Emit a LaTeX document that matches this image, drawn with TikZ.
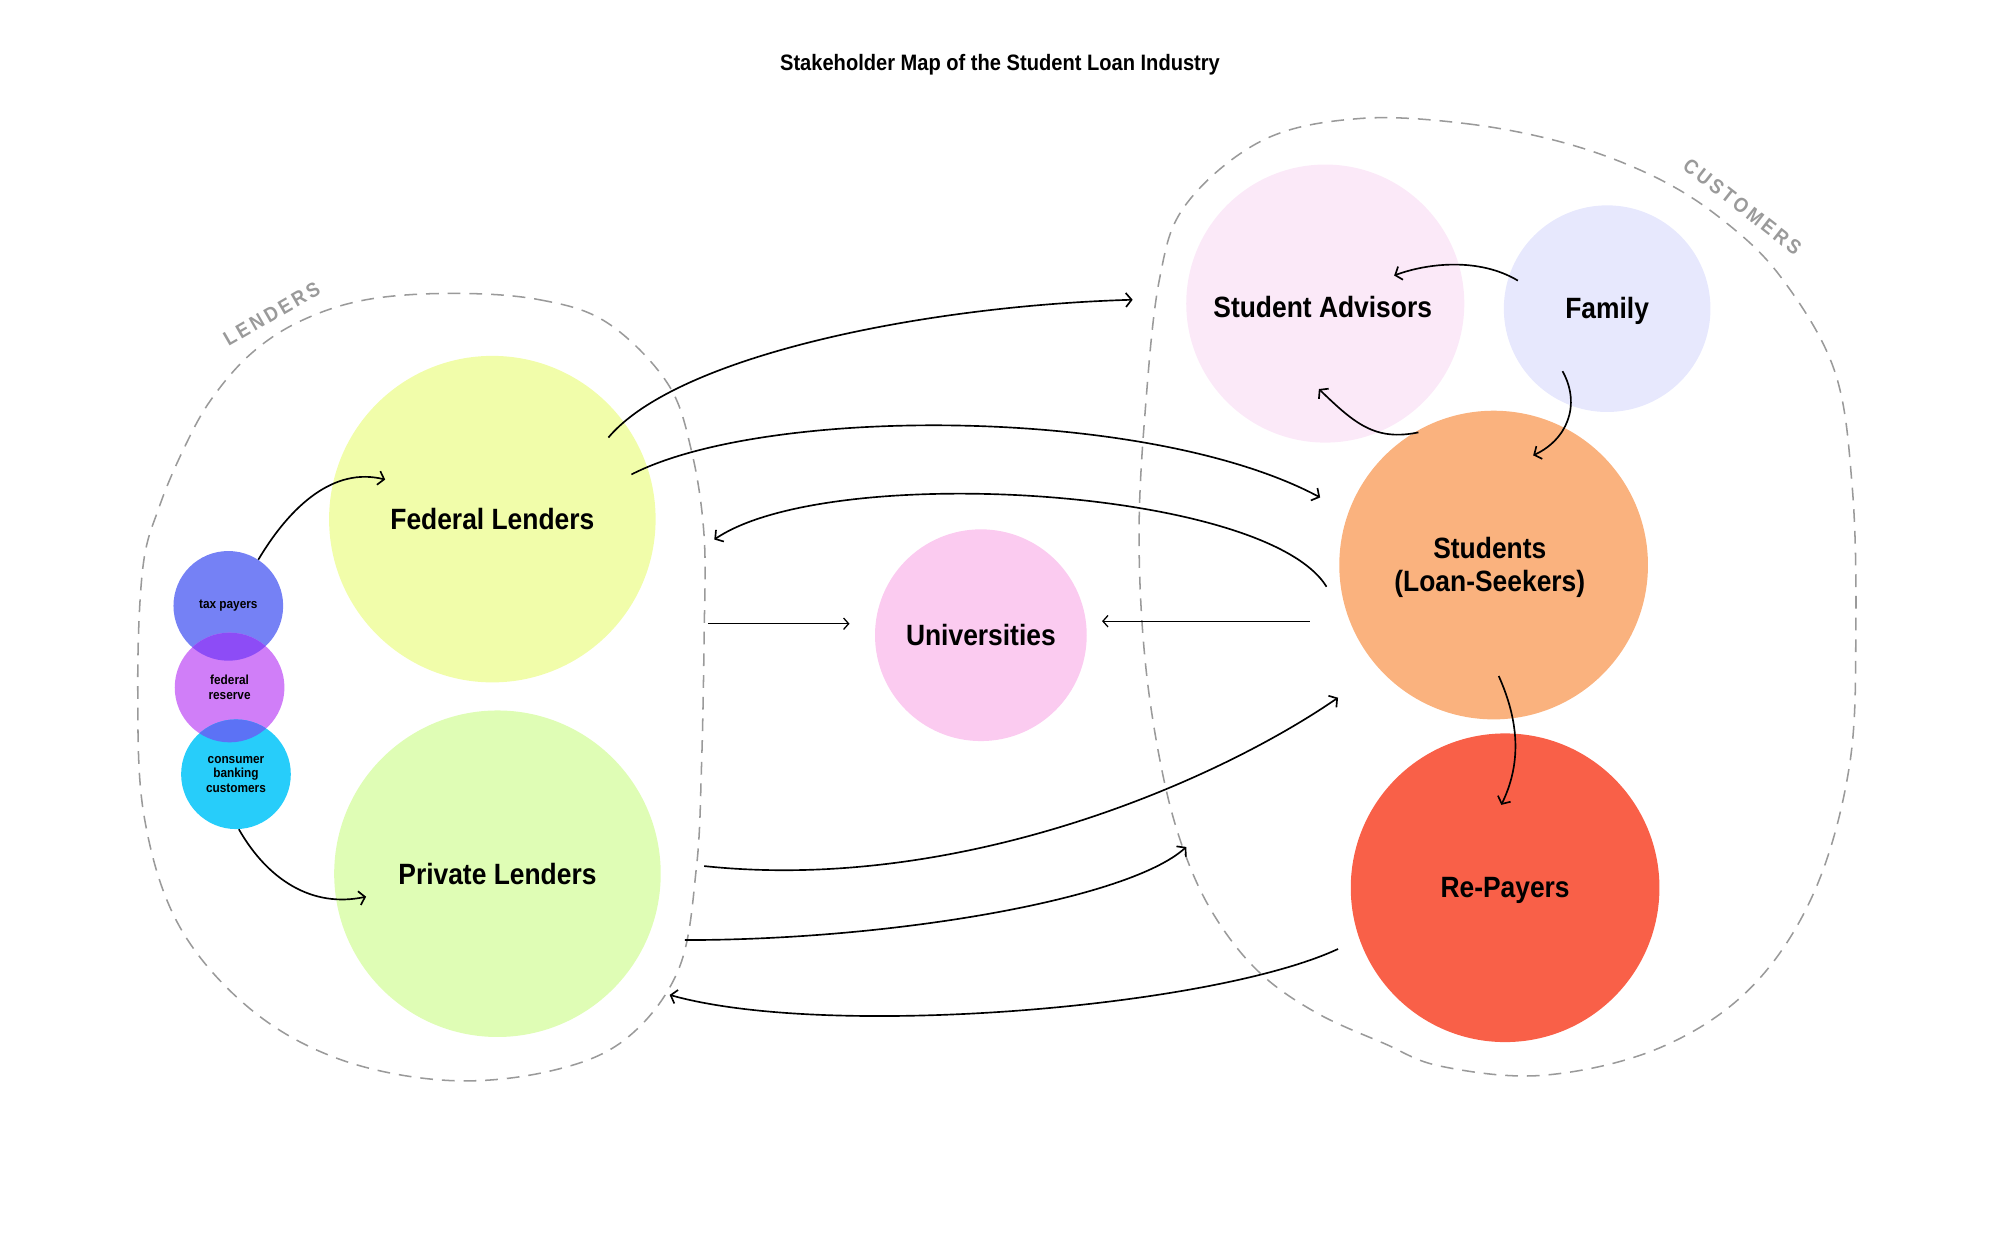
\documentclass[tikz,border=0pt]{standalone}
\usepackage{fontspec}
\setmainfont{Liberation Sans}[FakeStretch=0.9]
\usetikzlibrary{arrows.meta,calc}
\definecolor{fedc}{HTML}{F1FDAA}
\definecolor{privc}{HTML}{DFFDB5}
\definecolor{univc}{HTML}{FBCBF0}
\definecolor{advc}{HTML}{FBE9F8}
\definecolor{famc}{HTML}{E7E8FD}
\definecolor{studc}{HTML}{FAB27E}
\definecolor{repc}{HTML}{F96048}
\definecolor{taxc}{HTML}{7581F5}
\definecolor{resc}{HTML}{D07EF8}
\definecolor{consc}{HTML}{27CDFA}
\definecolor{ovA}{HTML}{8D4CF6}
\definecolor{ovB}{HTML}{5C72F5}
\definecolor{dashc}{HTML}{9A9A9A}
\begin{document}
\begin{tikzpicture}[x=1pt,y=-1pt,
  blob/.style={draw=dashc, line width=1.2pt, dash pattern=on 10pt off 7pt},
  bubble/.style={circle, inner sep=0pt, align=center, font=\bfseries\fontsize{23}{26}\selectfont},
  minor/.style={circle, inner sep=0pt, align=center, font=\bfseries\fontsize{10.3}{11.5}\selectfont},
  conn/.style={line width=1.3pt, -{Straight Barb[length=4.5pt,width=11pt,line width=1.3pt]}},
  thinconn/.style={line width=1pt, -{Straight Barb[length=4pt,width=9pt,line width=1pt]}},
  grouplabel/.style={text=dashc, font=\bfseries\fontsize{16}{16}\selectfont\addfontfeatures{LetterSpace=16}}
]
\useasboundingbox (0,0) rectangle (1568,973);

% group outlines
\draw[blob] plot[smooth cycle, tension=0.6] coordinates {
 (355,230) (423,235) (476,253) (523,300) (542,353) (552,420) (552,500) (550,600)
 (546,680) (532,760) (490,815) (430,840) (350,847) (265,830) (195,790) (140,725)
 (113,640) (108,540) (112,445) (125,397) (144,352) (165,314) (196,278) (235,252) (287,235)};
\draw[blob] plot[smooth cycle, tension=0.6] coordinates {
 (1065,93) (1150,97) (1230,113) (1298,139) (1350,172) (1396,217) (1438,290)
 (1452,380) (1455,490) (1450,600) (1422,700) (1372,775) (1300,822) (1210,843)
 (1130,836) (1085,818) (1032,794) (988,763) (954,721) (930,672) (912,609)
 (898,520) (893,420) (898,320) (909,219) (930,160) (990,110)};

\node[grouplabel, rotate=30] (lendlab) at (213,246) {LENDERS};
\node[grouplabel, rotate=-38] (custlab) at (1366,162) {CUSTOMERS};

% title
\node[font=\bfseries\fontsize{17.5}{20}\selectfont] (title) at (784,51) {Stakeholder Map of the Student Loan Industry};

% main bubbles
\node[bubble, fill=fedc, minimum size=256pt] (fed) at (386,407) {Federal Lenders};
\node[bubble, fill=privc, minimum size=256pt] (priv) at (390,685) {Private Lenders};
\node[bubble, fill=univc, minimum size=166pt] (univ) at (769,498) {Universities};
\node[bubble, fill=advc, minimum size=218pt] (adv) at (1039,238) {};
\node[bubble, fill=famc, minimum size=162pt] (fam) at (1260,242) {};
\node[bubble, fill=studc, minimum size=242pt] (stud) at (1171,443) {};
\node[bubble, fill=repc, minimum size=242pt] (rep) at (1180,696) {};
\node[bubble] (advt) at ($(adv.center)+(-2,3)$) {Student Advisors};
\node[bubble] (famt) at ($(fam.center)+(0,2)$) {Family};
\node[bubble] (studt) at ($(stud.center)+(-3,2)$) {Students\\(Loan-Seekers)};
\node[bubble] (rept) at ($(rep.center)+(0,2)$) {Re-Payers};

% small lender sources
\node[minor, fill=taxc, minimum size=86pt] (tax) at (179,475) {};
\node[minor, fill=resc, minimum size=86pt] (res) at (180,539) {};
\node[minor, fill=consc, minimum size=86pt] (cons) at (185,607) {};
\begin{scope}
 \clip (tax.center) circle[radius=43pt];
 \fill[ovA] (res.center) circle[radius=43pt];
\end{scope}
\begin{scope}
 \clip (res.center) circle[radius=43pt];
 \fill[ovB] (cons.center) circle[radius=43pt];
\end{scope}
\node[minor] (taxt) at (tax.center) {tax payers};
\node[minor] (rest) at (res.center) {federal\\reserve};
\node[minor] (const) at (cons.center) {consumer\\banking\\customers};

% connector end points
\coordinate (t1) at (302,376);
\coordinate (p1) at (287,703);
\coordinate (f1) at (477,343);
\coordinate (f2) at (495,372);
\coordinate (advin) at (888,235);
\coordinate (s1) at (1035,390);
\coordinate (s2) at (1040,460);
\coordinate (f3) at (560,423);
\coordinate (l1) at (555,489);
\coordinate (u1) at (666,489);
\coordinate (s3) at (1027,487);
\coordinate (u2) at (864,487);
\coordinate (pr1) at (552,679);
\coordinate (s4) at (1049,547);
\coordinate (pr2) at (537,737);
\coordinate (repin) at (930,664);
\coordinate (r1) at (1049,744);
\coordinate (pr3) at (525,780);
\coordinate (fm1) at (1190,220);
\coordinate (a1) at (1093,216);
\coordinate (fm2) at (1225,291);
\coordinate (s5) at (1202,357);
\coordinate (s6) at (1112,339);
\coordinate (a2) at (1034,305);
\coordinate (s7) at (1175,530);
\coordinate (r2) at (1177,631);

% connectors
\draw[conn] (tax.57) .. controls (228,396) and (262,366) .. (t1);
\draw[conn] (cons.-87) .. controls (210,690) and (245,712) .. (p1);
\draw[conn] (f1) .. controls (530,280) and (720,240) .. (advin);
\draw[conn] (f2) .. controls (600,318) and (900,318) .. (s1);
\draw[conn] (s2) .. controls (992,382) and (650,362) .. (f3);
\draw[thinconn] (l1) -- (u1);
\draw[thinconn] (s3) -- (u2);
\draw[conn] (pr1) .. controls (750,700) and (950,615) .. (s4);
\draw[conn] (pr2) .. controls (700,737) and (885,705) .. (repin);
\draw[conn] (r1) .. controls (950,790) and (650,815) .. (pr3);
\draw[conn] (fm1) .. controls (1160,202) and (1120,206) .. (a1);
\draw[conn] (fm2) .. controls (1240,318) and (1228,345) .. (s5);
\draw[conn] (s6) .. controls (1078,346) and (1062,332) .. (a2);
\draw[conn] (s7) .. controls (1192,568) and (1192,600) .. (r2);
\end{tikzpicture}
\end{document}
